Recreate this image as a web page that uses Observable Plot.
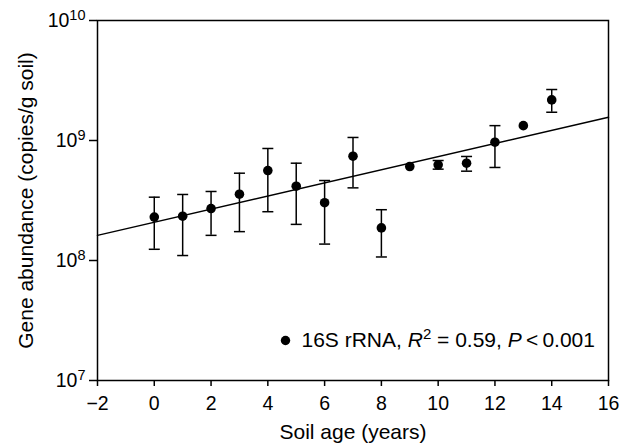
<!DOCTYPE html>
<html><head><meta charset="utf-8">
<script src="https://cdn.jsdelivr.net/npm/d3@7"></script>
<script src="https://cdn.jsdelivr.net/npm/@observablehq/plot@0.6"></script>
<style>
html,body{margin:0;padding:0;background:#fff;}
#chart{width:632px;height:445px;}
</style></head><body><div id="chart"></div>
<script>
// Data
const years = [0,1,2,3,4,5,6,7,8,9,10,11,12,13,14];
const abundance = [2.30e8,2.34e8,2.71e8,3.57e8,5.62e8,4.16e8,3.03e8,7.40e8,1.87e8,6.07e8,6.27e8,6.47e8,9.68e8,1.33e9,2.18e9];
const errLow  = [1.24e8,1.10e8,1.62e8,1.74e8,2.55e8,2.00e8,1.37e8,4.03e8,1.07e8,null,5.77e8,5.55e8,5.96e8,null,1.72e9];
const errHigh = [3.37e8,3.55e8,3.76e8,5.34e8,8.58e8,6.47e8,4.64e8,1.06e9,2.65e8,null,6.81e8,7.36e8,1.33e9,null,2.66e9];
const fitX = [-2, 16];
const fitY = [1.62e8, 1.565e9];
const xTicks = [-2,0,2,4,6,8,10,12,14,16];
const yTicks = [1e7,1e8,1e9,1e10];
const xTitle = "Soil age (years)";
const yTitle = "Gene abundance (copies/g soil)";
const legendLabel = "16S rRNA, R2 = 0.59, P < 0.001";

const rows = years.map((x,i)=>({x, y:abundance[i], lo:errLow[i], hi:errHigh[i]}));
const bars = rows.filter(d=>d.lo!=null);
const fit = fitX.map((x,i)=>({x, y:fitY[i]}));

const capSymbol = {draw(ctx){ ctx.moveTo(-5.5,0); ctx.lineTo(5.5,0); }};

const plot = Plot.plot({
  width: 632, height: 445,
  marginLeft: 97, marginRight: 24, marginTop: 20, marginBottom: 65,
  style: {fontFamily: "'Liberation Sans', Arial, sans-serif", fontSize: "19px", color: "black", background: "white"},
  x: {domain: [-2, 16]},
  y: {type: "log", domain: [1e7, 1e10]},
  marks: [
    Plot.frame({stroke: "black", strokeWidth: 1.5}),
    Plot.axisX({ticks: xTicks, tickSize: 6, tickPadding: 10, fontSize: 19.5, strokeWidth: 1.5, label: null,
      tickFormat: d => d < 0 ? "\u2212" + Math.abs(d) : String(d)}),
    Plot.axisY({ticks: yTicks, tickSize: 8, tickPadding: 4, fontSize: 19.5, strokeWidth: 1.5, label: null,
      tickFormat: d => "10^" + Math.round(Math.log10(d))}),
    Plot.line(fit, {x: "x", y: "y", stroke: "black", strokeWidth: 1.5}),
    Plot.ruleX(bars, {x: "x", y1: "lo", y2: "hi", stroke: "black", strokeWidth: 1.5}),
    Plot.dot(bars, {x: "x", y: "lo", symbol: capSymbol, fill: "none", stroke: "black", strokeWidth: 1.5}),
    Plot.dot(bars, {x: "x", y: "hi", symbol: capSymbol, fill: "none", stroke: "black", strokeWidth: 1.5}),
    Plot.dot(rows, {x: "x", y: "y", r: 4.8, fill: "black", stroke: "none"}),
    Plot.dot([legendLabel], {frameAnchor: "bottom-left", dx: 188, dy: -40, r: 4.7, fill: "black", stroke: "none"}),
    Plot.text([legendLabel], {frameAnchor: "bottom-left", dx: 204, dy: -40, text: d => d, textAnchor: "start", lineAnchor: "middle", fontSize: 21}),
    Plot.text([xTitle], {frameAnchor: "bottom", dy: 52, text: d => d, textAnchor: "middle", lineAnchor: "middle", fontSize: 21}),
    Plot.text([yTitle], {frameAnchor: "left", dx: -71, rotate: -90, text: d => d, textAnchor: "middle", lineAnchor: "middle", fontSize: 21})
  ]
});

// superscript exponents on y tick labels
d3.select(plot).selectAll('g[aria-label="y-axis tick label"] text').each(function(){
  const t = d3.select(this);
  const parts = t.text().split("^");
  t.text(parts[0]);
  t.append("tspan").attr("font-size", 14.5).attr("dy", "-7").text(parts[1]);
});
// legend rich text
d3.select(plot).selectAll("text").filter(function(){ return this.textContent === legendLabel; }).each(function(){
  const t = d3.select(this);
  t.text("16S rRNA, ");
  t.append("tspan").attr("font-style", "italic").text("R");
  t.append("tspan").attr("font-size", 15).attr("dy", "-8").text("2");
  t.append("tspan").attr("dy", "8").text(" = 0.59, ");
  t.append("tspan").attr("font-style", "italic").text("P");
  t.append("tspan").text("\u2009<\u20090.001");
});

document.getElementById("chart").append(plot);
</script>
</body></html>
